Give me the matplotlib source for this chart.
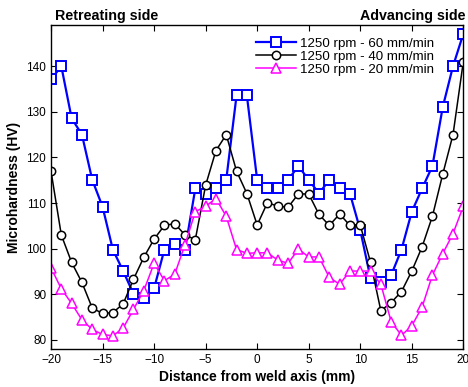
import numpy as np
import matplotlib
matplotlib.use("Agg")
import matplotlib.pyplot as plt

plt.rcParams['font.family'] = ['Liberation Sans', 'DejaVu Sans']

# distance from weld axis (mm)
x_mm = list(range(-20, 21))

# 1250 rpm - 60 mm/min
hv_60 = [137.1, 140.0, 128.6, 125.0, 115.1, 109.2, 99.8, 95.1, 90.1, 89.1,
         91.3, 99.8, 101.1, 99.8, 113.2, 112.1, 113.2, 115.1, 133.6, 133.6,
         115.1, 113.2, 113.2, 115.1, 118.1, 115.1, 112.1, 115.1, 113.2, 112.1,
         104.1, 93.5, 92.8, 94.2, 99.8, 108.1, 113.2, 118.1, 131.0, 140.0, 147.1]

# 1250 rpm - 40 mm/min
hv_40 = [117.0, 103.0, 97.0, 92.6, 87.0, 85.8, 86.0, 87.9, 93.3, 98.1,
         102.1, 105.1, 105.5, 103.0, 102.0, 113.9, 121.5, 125.0, 117.0, 112.1,
         105.2, 110.1, 109.3, 109.1, 112.0, 112.0, 107.5, 105.1, 107.6, 105.1,
         105.2, 97.0, 86.4, 88.2, 90.6, 95.1, 100.4, 107.1, 116.3, 125.0, 141.0]

# 1250 rpm - 20 mm/min
hv_20 = [95.8, 91.2, 88.0, 84.4, 82.3, 81.2, 80.9, 82.6, 86.7, 90.8,
         96.8, 93.0, 94.4, 100.9, 108.1, 109.3, 111.0, 107.1, 99.8, 99.0,
         99.1, 99.1, 97.5, 96.8, 99.9, 98.2, 98.2, 93.7, 92.2, 95.1,
         95.1, 95.1, 92.2, 84.0, 81.0, 83.1, 87.2, 94.2, 98.9, 103.3, 109.3]

labels = ['1250 rpm - 60 mm/min', '1250 rpm - 40 mm/min', '1250 rpm - 20 mm/min']

fig = plt.figure(figsize=(4.68, 3.87), dpi=100)
ax = fig.add_axes([0.109, 0.098, 0.881, 0.837])

ax.plot(x_mm, hv_60, '-s', color='#0000ff', lw=1.6, ms=6.5, mfc='white',
        mec='#0000ff', mew=1.4, label=labels[0])
ax.plot(x_mm, hv_40, '-o', color='black', lw=1.1, ms=6, mfc='white',
        mec='black', mew=1.1, label=labels[1])
ax.plot(x_mm, hv_20, '-^', color='#ff00ff', lw=1.1, ms=6.5, mfc='white',
        mec='#ff00ff', mew=1.1, label=labels[2])

ax.set_xlim(-20, 20)
ax.set_ylim(78, 149)
ax.set_xticks(range(-20, 21, 5))
ax.set_yticks(range(80, 141, 10))
ax.tick_params(direction='in', top=True, right=True, labelsize=8.5, length=4)
for s in ax.spines.values():
    s.set_linewidth(1.0)

ax.set_xlabel('Distance from weld axis (mm)', fontsize=10, fontweight='bold', labelpad=3)
ax.set_ylabel('Microhardness (HV)', fontsize=10, fontweight='bold', labelpad=4)

fig.text(0.118, 0.958, 'Retreating side', fontsize=10.3, fontweight='bold', ha='left', va='center')
fig.text(0.995, 0.958, 'Advancing side', fontsize=10.3, fontweight='bold', ha='right', va='center')

ax.legend(loc='upper left', bbox_to_anchor=(0.475, 0.99), frameon=False, fontsize=9.6,
          handlelength=3.0, handletextpad=0.3, labelspacing=0.05, borderaxespad=0.3)

fig.savefig('out.png', dpi=100)
